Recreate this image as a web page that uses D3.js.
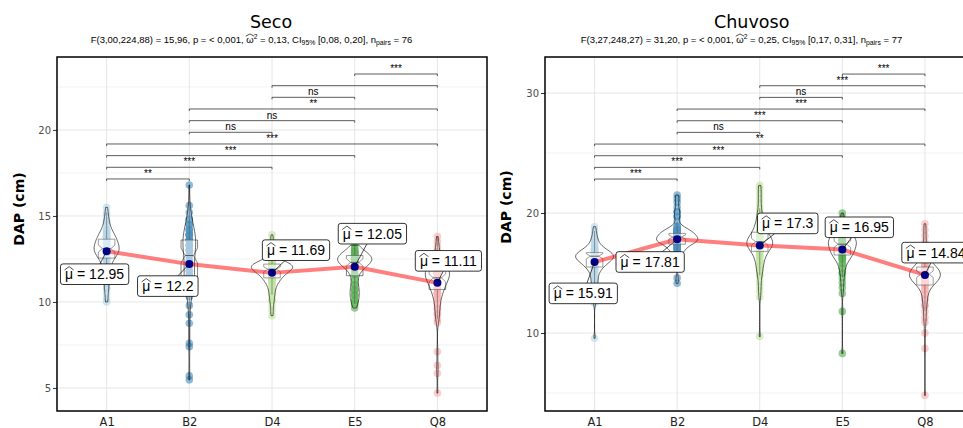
<!DOCTYPE html>
<html>
<head>
<meta charset="utf-8">
<script src="https://cdn.jsdelivr.net/npm/d3@7"></script>
<style>
  body { margin: 0; background: #fff; }
  svg { display: block; }
</style>
</head>
<body>
<div id="chart"></div>
<script>
'use strict';

const groups = ["A1", "B2", "D4", "E5", "Q8"];
const groupColors = ["#a6cee3", "#1f78b4", "#b2df8a", "#33a02c", "#fb9a99"];

// DAP (cm) per clone as [value, count]
const secoA1 = [[15.5,1],[15.2,1],[15.0,1],[14.7,2],[14.5,2],[14.2,3],[14.0,4],[13.8,5],[13.6,6],[13.4,6],[13.2,7],[13.0,8],
  [12.8,7],[12.6,4],[12.4,3],[12.2,3],[12.0,2],[11.7,2],[11.4,2],[11.1,2],[10.8,2],[10.5,1],[10.2,1],[10.0,1]];
const secoB2 = [[16.8,1],[15.6,1],[15.2,1],[14.8,2],[14.5,3],[14.2,4],[13.9,6],[13.6,7],[13.3,6],[13.0,5],[12.7,4],[12.4,3],
  [12.1,3],[11.8,4],[11.5,6],[11.2,5],[10.9,4],[10.6,3],[10.3,1],[9.8,1],[9.25,1],[8.76,1],[7.6,1],[7.4,1],[5.7,1],[5.47,1]];
const secoD4 = [[13.9,1],[13.6,1],[13.3,1],[13.0,1],[12.7,2],[12.4,6],[12.2,12],[12.0,14],[11.8,9],[11.6,7],[11.4,5],[11.2,4],
  [11.0,3],[10.7,3],[10.4,2],[10.1,2],[9.8,1],[9.5,1],[9.2,1]];
const secoE5 = [[13.3,1],[13.1,3],[12.9,6],[12.7,10],[12.5,13],[12.3,11],[12.1,6],[11.9,4],[11.6,3],[11.3,2],[11.0,3],[10.7,4],
  [10.4,4],[10.1,3],[9.9,2],[9.65,1]];
const secoQ8 = [[13.8,1],[13.5,1],[13.2,1],[12.9,2],[12.6,3],[12.3,5],[12.0,9],[11.7,12],[11.4,10],[11.1,7],[10.8,6],[10.5,4],
  [10.2,3],[9.9,2],[9.6,2],[9.3,2],[9.0,1],[8.8,1],[7.1,1],[6.3,1],[5.85,1],[4.7,1]];

const chuvosoA1 = [[18.86,1],[18.5,1],[18.2,1],[17.9,2],[17.6,2],[17.3,3],[17.0,6],[16.7,10],[16.4,13],[16.1,10],[15.8,7],[15.5,5],
  [15.2,3],[14.9,2],[14.6,2],[14.3,2],[14.0,2],[13.6,1],[13.2,1],[12.8,1],[12.5,1],[9.56,1]];
const chuvosoB2 = [[21.5,1],[21.2,1],[20.9,1],[20.5,1],[20.1,2],[19.7,2],[19.3,1],[18.9,3],[18.6,7],[18.3,10],[18.0,11],[17.7,13],
  [17.4,8],[17.1,5],[16.8,4],[16.5,2],[16.2,1],[15.8,1],[15.4,1],[14.6,1],[14.14,1]];
const chuvosoD4 = [[22.3,1],[22.0,1],[21.6,1],[21.2,1],[20.8,1],[20.4,1],[20.0,2],[19.6,2],[19.2,3],[18.8,4],[18.4,5],[18.0,8],
  [17.6,12],[17.2,10],[16.8,6],[16.4,4],[16.0,3],[15.6,3],[15.2,2],[14.8,2],[14.3,1],[13.9,1],[13.5,1],[13.0,1],[9.7,1]];
const chuvosoE5 = [[20.0,1],[19.6,1],[19.2,2],[18.8,4],[18.4,6],[18.0,8],[17.7,9],[17.4,8],[17.1,7],[16.8,7],[16.5,6],[16.2,5],
  [15.8,3],[15.4,2],[15.0,2],[14.6,1],[14.2,1],[13.8,1],[13.3,1],[11.8,1],[8.3,1]];
const chuvosoQ8 = [[19.1,1],[18.6,1],[18.1,1],[17.6,1],[17.1,2],[16.6,2],[16.2,3],[15.8,4],[15.5,7],[15.2,9],[14.9,9],[14.6,10],
  [14.3,7],[14.0,5],[13.6,3],[13.2,2],[12.8,2],[12.3,2],[11.8,1],[11.3,1],[10.9,1],[10.0,1],[8.7,1],[4.8,1]];

// reported means (labels)
const secoMeans = [12.95, 12.2, 11.69, 12.05, 11.11];
const chuvosoMeans = [15.91, 17.81, 17.3, 16.95, 14.84];

// pairwise comparisons
const pairs = [["A1","B2"],["A1","D4"],["A1","E5"],["A1","Q8"],["B2","D4"],["B2","E5"],["B2","Q8"],["D4","E5"],["D4","Q8"],["E5","Q8"]];
const secoSignif = ["**","***","***","***","ns","ns","**","ns","","***"];
const chuvosoSignif = ["***","***","***","**","ns","***","***","ns","***","***"];

const secoTicks = [5, 10, 15, 20];
const chuvosoTicks = [10, 20, 30];

// df1, df2, F, p, omega2, CI low, CI high, n pairs
const secoAnova = ["3,00", "224,88", "15,96", "< 0,001", "0,13", "0,08", "0,20", "76"];
const chuvosoAnova = ["3,27", "248,27", "31,20", "< 0,001", "0,25", "0,17", "0,31", "77"];

const W = 963, H = 428;
const svg = d3.select("#chart").append("svg")
    .attr("width", W)
    .attr("height", H)
    .style("font-family", "DejaVu Sans");

const panels = [
  {title: "Seco", titleX: 271, subX: 90.7, left: 57, right: 487, yDomain: [3.66, 24.24], ticks: secoTicks,
   data: [secoA1, secoB2, secoD4, secoE5, secoQ8], means: secoMeans, signif: secoSignif, anova: secoAnova,
   bracketStart: 17.15, bracketStep: 0.678, yLabelX: 24, yLabelY: 209,
   labelOffsets: [[-12, 23], [-21.5, 22], [24, -22.7], [17.7, -33], [11, -22]]},
  {title: "Chuvoso", titleX: 751.7, subX: 580.7, left: 545, right: 974.5, yDomain: [3.5, 33], ticks: chuvosoTicks,
   data: [chuvosoA1, chuvosoB2, chuvosoD4, chuvosoE5, chuvosoQ8], means: chuvosoMeans, signif: chuvosoSignif, anova: chuvosoAnova,
   bracketStart: 22.83, bracketStep: 0.972, yLabelX: 510.5, yLabelY: 207,
   labelOffsets: [[-11.3, 31.3], [-27, 22.7], [28, -22], [17, -22.3], [11, -22.3]]}
];
const panelTop = 57, panelBottom = 411;

function expand(table) {
    return table.flatMap(([v, n]) => d3.range(n).map(() => v));
}

// text with sub/superscripts, remembers which chars get a hat
function richText(g, x, y, pieces, size, family) {
    const t = g.append("text")
        .attr("x", x).attr("y", y)
        .attr("font-size", size)
        .attr("font-family", family)
        .attr("fill", "#000");
    let shift = 0, idx = 0;
    const hats = [];
    pieces.forEach(p => {
        const target = p.sub ? 2.6 : p.sup ? -3.6 : 0;
        t.append("tspan")
            .attr("dy", target - shift)
            .attr("font-size", (p.sub || p.sup) ? size * 0.72 : size)
            .text(p.t);
        shift = target;
        if (p.hat) hats.push(idx);
        idx += p.t.length;
    });
    return {t: t, hats: hats};
}

function drawHat(g, box, baseline, size) {
    const x0 = box.x - 0.5, x1 = box.x + box.width + 0.5;
    g.append("path")
        .attr("d", `M${x0},${baseline - size * 0.66} L${(x0 + x1) / 2},${baseline - size * 0.9} L${x1},${baseline - size * 0.66}`)
        .attr("fill", "none")
        .attr("stroke", "#000")
        .attr("stroke-width", 0.7);
}

function draw_panel(p) {
    const g = svg.append("g");
    const x = d3.scalePoint().domain(groups).range([p.left, p.right]).padding(0.6);
    const y = d3.scaleLinear().domain(p.yDomain).range([panelBottom, panelTop]);
    const step = x.step();

    // grid
    const tickStep = p.ticks[1] - p.ticks[0];
    const minor = d3.range(p.ticks[0] - tickStep / 2, p.yDomain[1], tickStep).filter(v => v > p.yDomain[0]);
    g.append("g").selectAll("line").data(minor).join("line")
        .attr("x1", p.left).attr("x2", p.right)
        .attr("y1", d => y(d)).attr("y2", d => y(d))
        .attr("stroke", "#ebebeb").attr("stroke-width", 0.6);
    g.append("g").selectAll("line").data(p.ticks).join("line")
        .attr("x1", p.left).attr("x2", p.right)
        .attr("y1", d => y(d)).attr("y2", d => y(d))
        .attr("stroke", "#e6e6e6").attr("stroke-width", 1);
    g.append("g").selectAll("line").data(groups).join("line")
        .attr("x1", d => x(d)).attr("x2", d => x(d))
        .attr("y1", panelTop).attr("y2", panelBottom)
        .attr("stroke", "#e6e6e6").attr("stroke-width", 1);

    // stats for violins and boxes
    const stats = p.data.map(tbl => {
        const s = expand(tbl).sort(d3.ascending);
        const q1 = d3.quantileSorted(s, 0.25), med = d3.quantileSorted(s, 0.5), q3 = d3.quantileSorted(s, 0.75);
        const iqr = q3 - q1;
        const lo = d3.min(s.filter(v => v >= q1 - 1.5 * iqr));
        const hi = d3.max(s.filter(v => v <= q3 + 1.5 * iqr));
        const bw = 0.9 * Math.min(d3.deviation(s), iqr / 1.34) * Math.pow(s.length, -0.2);
        const ys = d3.range(101).map(i => s[0] + (s[s.length - 1] - s[0]) * i / 100);
        const dens = ys.map(v => d3.mean(s, d => Math.exp(-0.5 * ((v - d) / bw) ** 2)) / (bw * Math.sqrt(2 * Math.PI)));
        return {s, q1, med, q3, iqr, lo, hi, ys, dens};
    });
    const maxDens = d3.max(stats, d => d3.max(d.dens));

    // points
    stats.forEach((st, i) => {
        g.append("g").selectAll("circle").data(st.s).join("circle")
            .attr("cx", x(groups[i]))
            .attr("cy", d => y(d))
            .attr("r", 3.8)
            .attr("fill", groupColors[i])
            .attr("fill-opacity", 0.5);
    });

    // boxplots (notched)
    const bh = step * 0.1;
    stats.forEach((st, i) => {
        const cx = x(groups[i]);
        const x0 = cx - bh, x1 = cx + bh, ind = (x1 - x0) * 0.25;
        const nh = 1.58 * st.iqr / Math.sqrt(st.s.length);
        const nu = y(st.med + nh), nl = y(st.med - nh), ym = y(st.med);
        const bg = g.append("g").attr("stroke", "#333").attr("stroke-width", 0.6);
        bg.append("line").attr("x1", cx).attr("x2", cx).attr("y1", y(st.q3)).attr("y2", y(st.hi));
        bg.append("line").attr("x1", cx).attr("x2", cx).attr("y1", y(st.q1)).attr("y2", y(st.lo));
        bg.append("path")
            .attr("d", `M${x0},${y(st.q3)}L${x0},${nu}L${x0 + ind},${ym}L${x0},${nl}L${x0},${y(st.q1)}` +
                       `L${x1},${y(st.q1)}L${x1},${nl}L${x1 - ind},${ym}L${x1},${nu}L${x1},${y(st.q3)}Z`)
            .attr("fill", "#fff").attr("fill-opacity", 0.5);
        bg.append("line").attr("x1", x0 + ind).attr("x2", x1 - ind).attr("y1", ym).attr("y2", ym)
            .attr("stroke-width", 1);
    });

    // violins
    const vmax = step * 0.25;
    stats.forEach((st, i) => {
        const cx = x(groups[i]);
        const pts = st.ys.map((v, j) => ({v: v, w: st.dens[j] / maxDens * vmax}));
        const area = d3.area()
            .x0(d => cx - d.w).x1(d => cx + d.w)
            .y(d => y(d.v));
        g.append("path")
            .attr("d", area(pts))
            .attr("fill", "#fff").attr("fill-opacity", 0.2)
            .attr("stroke", "#000").attr("stroke-width", 0.6);
    });

    // mean path and points
    const line = d3.line().x((d, i) => x(groups[i])).y(d => y(d));
    g.append("path")
        .attr("d", line(p.means))
        .attr("fill", "none")
        .attr("stroke", "red").attr("stroke-opacity", 0.5)
        .attr("stroke-width", 4).attr("stroke-linejoin", "round");
    g.append("g").selectAll("circle").data(p.means).join("circle")
        .attr("cx", (d, i) => x(groups[i]))
        .attr("cy", d => y(d))
        .attr("r", 4)
        .attr("fill", "darkblue");

    // mean labels
    p.means.forEach((m, i) => {
        const mx = x(groups[i]), my = y(m);
        const cx = mx + p.labelOffsets[i][0], cy = my + p.labelOffsets[i][1];
        const lg = g.append("g");
        const seg = lg.append("line");
        const rect = lg.append("rect");
        const fs = 14;
        const rt = richText(lg, cx, cy + fs * 0.36, [{t: "μ", hat: true}, {t: " = " + m}], fs, "Liberation Sans, Arial, sans-serif");
        rt.t.attr("text-anchor", "middle");
        const bb = rt.t.node().getBBox();
        const hw = bb.width / 2 + 4.5, hh = 10.3;
        rect.attr("x", cx - hw).attr("y", cy - hh).attr("width", hw * 2).attr("height", hh * 2)
            .attr("rx", 2.5).attr("fill", "#fff").attr("stroke", "#000").attr("stroke-width", 0.8);
        rt.hats.forEach(k => drawHat(lg, rt.t.node().getExtentOfChar(k), cy + fs * 0.36, fs));
        const dx = cx - mx, dy = cy - my;
        const tEdge = Math.min(hw / Math.abs(dx || 1e-6), hh / Math.abs(dy || 1e-6));
        seg.attr("x1", mx).attr("y1", my).attr("x2", cx - dx * tEdge).attr("y2", cy - dy * tEdge)
            .attr("stroke", "#000").attr("stroke-width", 0.7);
    });

    // pairwise brackets
    pairs.forEach((pr, i) => {
        const yy = y(p.bracketStart + i * p.bracketStep);
        const xa = x(pr[0]), xb = x(pr[1]);
        g.append("path")
            .attr("d", `M${xa},${yy + 2}L${xa},${yy}L${xb},${yy}L${xb},${yy + 2}`)
            .attr("fill", "none").attr("stroke", "#333").attr("stroke-width", 0.8);
        g.append("text")
            .attr("x", (xa + xb) / 2).attr("y", yy - 2)
            .attr("text-anchor", "middle")
            .attr("font-family", "Liberation Sans, Arial, sans-serif")
            .attr("font-size", 10)
            .text(p.signif[i]);
    });

    // axes
    const ya = g.append("g").attr("transform", `translate(${p.left},0)`)
        .call(d3.axisLeft(y).tickValues(p.ticks).tickSize(4).tickPadding(2));
    ya.select(".domain").remove();
    ya.selectAll(".tick line").attr("stroke", "#333");
    ya.selectAll(".tick text").attr("font-family", "DejaVu Sans").attr("font-size", 10).attr("fill", "#4d4d4d");

    const xa = g.append("g").attr("transform", `translate(0,${panelBottom})`)
        .call(d3.axisBottom(x).tickSize(0).tickPadding(6.5));
    xa.select(".domain").remove();
    xa.selectAll(".tick text").attr("font-family", "DejaVu Sans").attr("font-size", 11.5).attr("fill", "#222");

    // panel border
    g.append("rect")
        .attr("x", p.left).attr("y", panelTop)
        .attr("width", p.right - p.left).attr("height", panelBottom - panelTop)
        .attr("fill", "none").attr("stroke", "#000").attr("stroke-width", 1.5);

    // titles
    g.append("text")
        .attr("x", p.titleX).attr("y", 28)
        .attr("text-anchor", "middle")
        .attr("font-size", 17.5)
        .text(p.title);
    const a = p.anova;
    const sub = richText(g, p.subX, 42.5, [
        {t: "F(" + a[0] + "," + a[1] + ") = " + a[2] + ", p = " + a[3] + ", "},
        {t: "ω", hat: true},
        {t: "2", sup: true},
        {t: " = " + a[4] + ", CI"},
        {t: "95%", sub: true},
        {t: " [" + a[5] + ", " + a[6] + "], n"},
        {t: "pairs", sub: true},
        {t: " = " + a[7]}
    ], 9.5, "Liberation Sans, Arial, sans-serif");
    sub.hats.forEach(k => drawHat(g, sub.t.node().getExtentOfChar(k), 42.5, 9.5));

    g.append("text")
        .attr("transform", `translate(${p.yLabelX},${p.yLabelY}) rotate(-90)`)
        .attr("text-anchor", "middle")
        .attr("font-size", 14)
        .attr("font-weight", "bold")
        .text("DAP (cm)");
}

panels.forEach(draw_panel);
</script>
</body>
</html>
